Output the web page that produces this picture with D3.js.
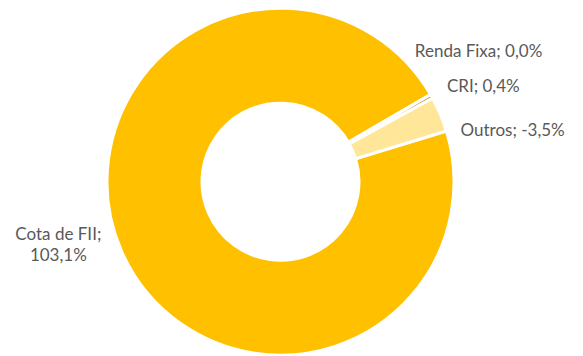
<!DOCTYPE html>
<html>
<head>
<meta charset="utf-8">
<script src="https://cdn.jsdelivr.net/npm/d3@7"></script>
<style>
  body { margin: 0; background: #fff; }
  svg { display: block; }
</style>
</head>
<body>
<svg id="chart" width="583" height="356"></svg>
<script>
const categories = ["Cota de FII", "Renda Fixa", "CRI", "Outros"];
const values = [103.1, 0.0, 0.4, -3.5];
const valueLabels = ["103,1%", "0,0%", "0,4%", "-3,5%"];
const colors = ["#FFC000", "#7F6000", "#BF9000", "#FFE699"];

function drawDonut(svg) {
  svg.selectAll("*").remove();

  const cx = 280.5, cy = 181.7;
  const outer = 173.5, inner = 78.5;
  const a0 = 73 * Math.PI / 180;

  const data = categories.map((c, i) => ({ name: c, value: values[i], label: valueLabels[i], color: colors[i] }));

  // excel plots the absolute value of negative slices
  const pie = d3.pie()
    .sort(null)
    .value(d => Math.abs(d.value))
    .startAngle(a0)
    .endAngle(a0 + 2 * Math.PI);

  const arc = d3.arc().innerRadius(inner).outerRadius(outer);

  const g = svg.append("g").attr("transform", `translate(${cx},${cy})`);
  const arcs = pie(data);

  g.selectAll("path")
    .data(arcs)
    .enter()
    .append("path")
    .attr("d", arc)
    .attr("fill", d => d.data.color)
    .attr("stroke", "#fff")
    .attr("stroke-width", 3)
    .attr("stroke-linejoin", "miter");

  // label anchor on a ring outside the donut, then nudged like excel does
  const labelR = 190;
  const nudge = {
    "Cota de FII": [-48, -14, "middle"],
    "Renda Fixa": [-30, -36, "start"],
    "CRI": [1, -3, "start"],
    "Outros": [5, 22, "start"]
  };

  arcs.forEach(d => {
    const a = d.startAngle === d.endAngle ? d.startAngle : (d.startAngle + d.endAngle) / 2;
    const [dx, dy, anchor] = nudge[d.data.name];
    const x = Math.sin(a) * labelR + dx;
    const y = -Math.cos(a) * labelR + dy;
    const t = g.append("text")
      .attr("x", x)
      .attr("y", y)
      .attr("text-anchor", anchor)
      .attr("dominant-baseline", "central")
      .attr("font-family", "Lato, 'Open Sans', sans-serif")
      .attr("font-size", "17px")
      .attr("fill", "#595959");
    if (d.data.name === "Cota de FII") {
      t.append("tspan").attr("x", x).attr("dy", "-0.6em").text(d.data.name + ";");
      t.append("tspan").attr("x", x).attr("dy", "1.2em").text(d.data.label);
    } else {
      t.text(d.data.name + "; " + d.data.label);
    }
  });
}

drawDonut(d3.select("#chart"));
</script>
</body>
</html>
